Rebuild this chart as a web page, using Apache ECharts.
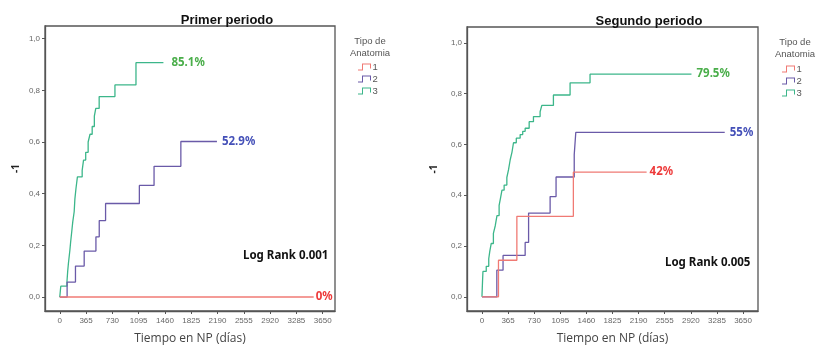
<!DOCTYPE html>
<html>
<head>
<meta charset="utf-8">
<script src="https://cdn.jsdelivr.net/npm/echarts@6/dist/echarts.min.js"></script>
<style>html,body{margin:0;padding:0;background:#fff}#c{width:839px;height:350px}</style>
</head>
<body>
<div id="c"></div>
<script>
// ---- data (days, cumulative proportion) ----
var xTicks = [0, 365, 730, 1095, 1460, 1825, 2190, 2555, 2920, 3285, 3650];
var yTicks = [0, 0.2, 0.4, 0.6, 0.8, 1.0];
var groups = ['1', '2', '3'];
var panelTitles = ['Primer periodo', 'Segundo periodo'];
var logRankTexts = ['Log Rank 0.001', 'Log Rank 0.005'];

// Primer periodo
var p1Group1 = [[0, 0], [3525, 0]];
var p1Group2 = [[0, 0], [102, 0.058], [218, 0.12], [339, 0.178], [502, 0.233], [548, 0.296], [636, 0.362], [1105, 0.432], [1309, 0.506], [1681, 0.602], [2182, 0.602]];
var p1Group3 = [[0, 0], [14, 0.042], [100, 0.06], [110, 0.10], [120, 0.13], [140, 0.18], [150, 0.21], [165, 0.25], [180, 0.29], [200, 0.33], [210, 0.38], [225, 0.42], [245, 0.465], [311, 0.49], [330, 0.53], [360, 0.56], [394, 0.60], [420, 0.63], [450, 0.66], [480, 0.70], [500, 0.73], [547, 0.776], [766, 0.821], [1058, 0.907], [1439, 0.907]];
var p1Labels = ['0%', '52.9%', '85.1%'];

// Segundo periodo
var p2Group1 = [[0, 0], [231, 0.144], [488, 0.317], [1278, 0.491], [2302, 0.491]];
var p2Group2 = [[0, 0], [208, 0.105], [295, 0.163], [604, 0.214], [652, 0.33], [953, 0.395], [1036, 0.472], [1290, 0.56], [1312, 0.648], [3394, 0.648]];
var p2Group3 = [[0, 0], [8, 0.06], [14, 0.10], [60, 0.12], [95, 0.15], [110, 0.18], [130, 0.21], [160, 0.25], [186, 0.28], [210, 0.32], [240, 0.36], [260, 0.39], [280, 0.42], [310, 0.44], [348, 0.47], [371, 0.50], [395, 0.54], [420, 0.57], [441, 0.607], [480, 0.625], [534, 0.639], [570, 0.652], [604, 0.664], [660, 0.69], [720, 0.71], [813, 0.729], [837, 0.754], [999, 0.795], [1232, 0.843], [1511, 0.877], [2929, 0.877]];
var p2Labels = ['42%', '55%', '79.5%'];

// ---- styling ----
var lineColors = ['#f07a74', '#6a5aa8', '#3cb68a'];
var labelColors = ['#ee3a3a', '#4450b8', '#4aae4a'];
var FONT = 'Noto Sans';

var grids = [
  {left: 45, top: 26, width: 290, height: 286},
  {left: 467, top: 27, width: 291, height: 290}
];
var xRanges = [[-205, 3821], [-209, 3859]];
var yRanges = [[-0.054, 1.049], [-0.056, 1.063]];
var yNameGaps = [24, 28];

var option = {
  backgroundColor: '#ffffff',
  animation: false,
  title: [
    {text: panelTitles[0], left: 222, top: 9, textAlign: 'center', textStyle: {fontFamily: 'Liberation Sans', fontWeight: 'bold', fontSize: 13, color: '#111'}},
    {text: panelTitles[1], left: 644, top: 10, textAlign: 'center', textStyle: {fontFamily: 'Liberation Sans', fontWeight: 'bold', fontSize: 13, color: '#111'}},
    {text: 'Tipo de\nAnatomia', left: 365, top: 30, textAlign: 'center', textStyle: {fontFamily: 'Liberation Sans', fontWeight: 'normal', fontSize: 9.5, lineHeight: 12, color: '#555'}},
    {text: 'Tipo de\nAnatomia', left: 790, top: 31, textAlign: 'center', textStyle: {fontFamily: 'Liberation Sans', fontWeight: 'normal', fontSize: 9.5, lineHeight: 12, color: '#555'}}
  ],
  legend: [0, 1].map(function (i) {
    return {
      data: groups,
      orient: 'vertical',
      left: i === 0 ? 353 : 777,
      top: i === 0 ? 57 : 59,
      itemWidth: 14,
      itemHeight: 7,
      itemGap: 2,
      icon: 'path://M0,6 L4,6 L4,0 L13,0 L13,5 L12,5 L12,1 L5,1 L5,7 L0,7 Z',
      textStyle: {fontFamily: 'Liberation Sans', fontSize: 9.5, color: '#555', padding: [0, 0, 0, -4]},
      selectedMode: false
    };
  }),
  grid: grids.map(function (g) {
    return Object.assign({show: true, borderColor: '#555', borderWidth: 1.3, backgroundColor: 'transparent'}, g);
  }),
  xAxis: [0, 1].map(function (i) {
    return {
      type: 'value', gridIndex: i, min: xRanges[i][0], max: xRanges[i][1],
      name: 'Tiempo en NP (días)', nameLocation: 'middle', nameGap: 22,
      nameTextStyle: {fontFamily: 'Open Sans', fontSize: 12, color: '#444'},
      axisLine: {show: true, onZero: false, lineStyle: {color: '#555', width: 1.3}},
      axisTick: {show: true, length: 3, customValues: xTicks, lineStyle: {color: '#555'}},
      axisLabel: {customValues: xTicks, fontFamily: 'Liberation Sans', fontSize: 8, color: '#666', margin: 6,
        formatter: function (v) { return String(Math.round(v)); }},
      splitLine: {show: false}
    };
  }),
  yAxis: [0, 1].map(function (i) {
    return {
      type: 'value', gridIndex: i, min: yRanges[i][0], max: yRanges[i][1],
      name: '-1', nameLocation: 'middle', nameGap: yNameGaps[i], nameRotate: 90,
      nameTextStyle: {fontFamily: FONT, fontSize: 10, fontWeight: 'bold', color: '#222'},
      axisLine: {show: true, onZero: false, lineStyle: {color: '#555', width: 1.3}},
      axisTick: {show: true, length: 3, customValues: yTicks, lineStyle: {color: '#555'}},
      axisLabel: {customValues: yTicks, fontFamily: 'Liberation Sans', fontSize: 8, color: '#666', margin: 5,
        formatter: function (v) { return v.toFixed(1).replace('.', ','); }},
      splitLine: {show: false}
    };
  }),
  series: []
};

var panels = [
  {data: [p1Group1, p1Group2, p1Group3], labels: p1Labels, dist: [2, 5, 8]},
  {data: [p2Group1, p2Group2, p2Group3], labels: p2Labels, dist: [3, 5, 5]}
];
panels.forEach(function (p, pi) {
  p.data.forEach(function (d, gi) {
    option.series.push({
      type: 'line', name: groups[gi], xAxisIndex: pi, yAxisIndex: pi,
      data: d, step: 'end', showSymbol: false, symbol: 'none',
      color: lineColors[gi],
      lineStyle: {color: lineColors[gi], width: (pi === 0 && gi === 0) ? 2 : 1.3, opacity: (pi === 0 && gi === 0) ? 0.75 : 1},
      endLabel: {show: true, formatter: p.labels[gi], distance: p.dist[gi],
        fontFamily: FONT, fontWeight: 'bold', fontSize: 11.5, color: labelColors[gi]},
      z: 3 - gi
    });
  });
});

option.graphic = [
  {type: 'text', left: 243, top: 250, style: {text: logRankTexts[0], font: 'bold 11.5px "Noto Sans"', fill: '#111'}},
  {type: 'text', left: 665, top: 257, style: {text: logRankTexts[1], font: 'bold 11.5px "Noto Sans"', fill: '#111'}}
];

var chart = echarts.init(document.getElementById('c'), null, {renderer: 'canvas'});
chart.setOption(option);
</script>
</body>
</html>
